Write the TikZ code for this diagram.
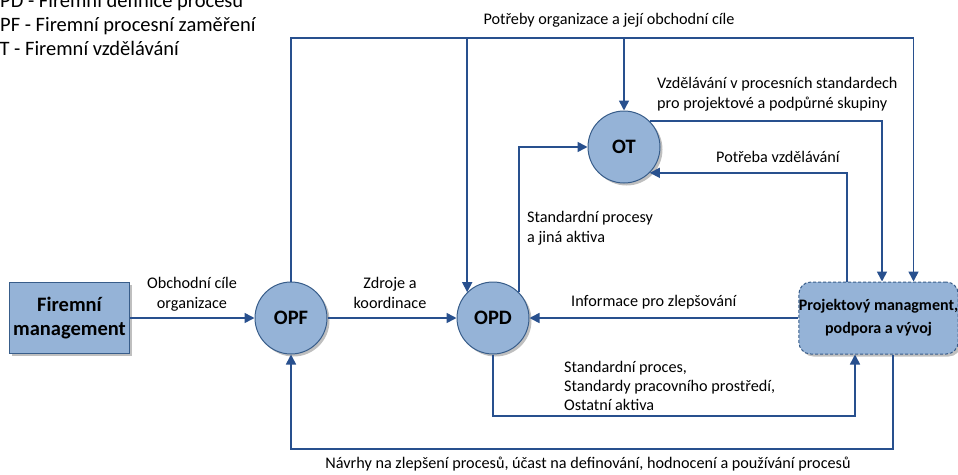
\documentclass[tikz,border=0pt]{standalone}
\usepackage{fontspec}
\setmainfont{Carlito}
\usetikzlibrary{arrows.meta, shadows}
\definecolor{boxfill}{RGB}{149,179,215}
\definecolor{boxline}{RGB}{56,93,138}
\definecolor{flowline}{RGB}{40,80,142}

\begin{document}
\begin{tikzpicture}[x=1pt, y=-1pt]
        \tikzset{flow/.style={-{Triangle[length=10pt, width=10pt]}, line width=1.6pt, flowline}}
        \tikzset{proc/.style={circle, draw=boxline, line width=1pt, fill=boxfill, minimum size=72pt, inner sep=0pt,
                font=\bfseries\fontsize{20.5}{24}\selectfont,
                drop shadow={shadow xshift=2.5pt, shadow yshift=-2.5pt, fill=black!50, opacity=.5}}}
        \tikzset{lbl/.style={inner sep=0pt, font=\fontsize{16.2}{20}\selectfont, align=left}}
        \tikzset{legenda/.style={inner sep=0pt, anchor=base west, font=\fontsize{20.5}{24}\selectfont}}
        \pgfmathsetmacro{\ytop}{38}
        \useasboundingbox (0,0) rectangle (958,474);
        % legenda
        \node[legenda] (legd) at (-13.6,7) {OPD - Firemní definice procesu};
        \node[legenda] (legf) at (-13.6,31) {OPF - Firemní procesní zaměření};
        \node[legenda] (legt) at (-13.6,55) {OT - Firemní vzdělávání};
        % uzly
        \node[draw=boxline, line width=1pt, fill=boxfill, minimum width=119pt, minimum height=71pt, align=center,
              font=\bfseries\fontsize{20.5}{24.3}\selectfont,
              drop shadow={shadow xshift=2.5pt, shadow yshift=-2.5pt, fill=black!50, opacity=.5}] (firma) at (69.5,318) {Firemní\\management};
        \node[proc] (opf) at (291,318) {OPF};
        \node[proc] (opd) at (493,318) {OPD};
        \node[proc] (ot) at (624,147) {OT};
        \node[draw=boxline, densely dashed, line width=1pt, fill=boxfill, rounded corners=12pt, minimum width=157pt, minimum height=72pt,
              align=center, inner sep=0pt, font=\bfseries\fontsize{16}{22.7}\selectfont,
              drop shadow={shadow xshift=2.5pt, shadow yshift=-2.5pt, fill=black!50, opacity=.5}] (projekt) at (878.5,318) {Projektový managment,\\podpora a vývoj};
        \coordinate (horni) at (0,\ytop);
        \coordinate (dolni1) at (0,416);
        \coordinate (dolni2) at (0,449);
        % spojnice
        \draw[flow] (firma.east) -- (opf.west);
        \draw[flow] (opf.east) -- (opd.west);
        \draw[flow] (projekt.west) -- (opd.east);
        \draw[flow] (opf.north) -- (opf.north |- horni) -| ([xshift=35pt]projekt.north);
        \draw[flow] (opd.north west |- horni) -- (opd.north west);
        \draw[flow] (ot.north |- horni) -- (ot.north);
        \draw[flow] (opd.north east) |- (ot.west);
        \draw[flow] (ot.north east) -| ([xshift=3.5pt]projekt.north);
        \draw[flow] ([xshift=-31.5pt]projekt.north) |- (ot.south east);
        \draw[flow] (opd.south) -- (opd.south |- dolni1) -| ([xshift=-23.5pt]projekt.south);
        \draw[flow] ([xshift=14.5pt]projekt.south) -- ([xshift=14.5pt]projekt.south |- dolni2) -| (opf.south);
        % popisky
        \node[lbl, anchor=base] (l1) at (609,24) {Potřeby organizace a její obchodní cíle};
        \node[lbl, anchor=base west] (l2) at (657,108) {Vzdělávání v procesních standardech\\pro projektové a podpůrné skupiny};
        \node[lbl, anchor=base west] (l3) at (716,162) {Potřeba vzdělávání};
        \node[lbl, anchor=base west] (l4) at (527,242) {Standardní procesy\\a jiná aktiva};
        \node[lbl, anchor=base, align=center] (l5) at (192,308) {Obchodní cíle\\organizace};
        \node[lbl, anchor=base, align=center] (l6) at (390,308) {Zdroje a\\koordinace};
        \node[lbl, anchor=base west] (l7) at (571,306) {Informace pro zlepšování};
        \node[lbl, anchor=base west, font=\fontsize{16.2}{19}\selectfont] (l8) at (564,410) {Standardní proces,\\Standardy pracovního prostředí,\\Ostatní aktiva};
        \node[lbl, anchor=base] (l9) at (588,468) {Návrhy na zlepšení procesů, účast na definování, hodnocení a používání procesů};
    \end{tikzpicture}
\end{document}
